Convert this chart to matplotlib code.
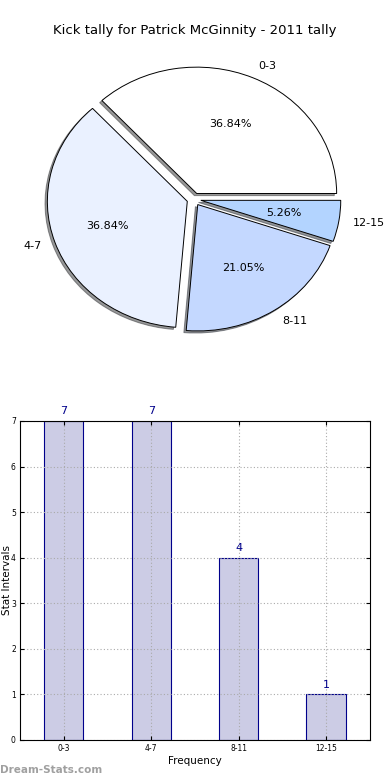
import matplotlib
matplotlib.use("Agg")
import matplotlib.pyplot as plt

intervals = ["0-3", "4-7", "8-11", "12-15"]
counts = [7, 7, 4, 1]
pie_colors = ["#FFFFFF", "#EAF1FF", "#C4D8FF", "#B3D4FF"]
title = "Kick tally for Patrick McGinnity - 2011 tally"

fig = plt.figure(figsize=(3.9, 7.8), dpi=100)

# pie on top (old-style, not forced circular)
ax_pie = fig.add_axes([0.0487, 0.542, 0.897, 0.405])
wedges, texts, autotexts = ax_pie.pie(
    counts,
    labels=intervals,
    colors=pie_colors,
    explode=[0.05] * len(counts),
    autopct="%1.2f%%",
    shadow={"ox": -0.012, "oy": -0.012, "shade": 0.8},
    startangle=0,
    wedgeprops={"edgecolor": "black", "linewidth": 0.7},
    textprops={"fontsize": 8},
)
ax_pie.set_aspect("auto")
ax_pie.set_xlim(-1.25, 1.25)
ax_pie.set_ylim(-1.25, 1.25)
fig.text(0.5, 0.961, title, ha="center", va="center", fontsize=9.5)

# bar chart below
ax_bar = fig.add_axes([0.0513, 0.0513, 0.897, 0.409])
x = list(range(len(intervals)))
ax_bar.bar(x, counts, width=0.45, color="#CCCCE5", edgecolor="#00008B", linewidth=0.8)
for xi, c in zip(x, counts):
    ax_bar.text(xi, c + 0.1, str(c), ha="center", va="bottom", fontsize=8, color="#00008B")
ax_bar.set_xlim(-0.5, 3.5)
ax_bar.set_ylim(0, 7)
ax_bar.set_xticks(x)
ax_bar.set_xticklabels(intervals)
ax_bar.set_yticks(range(8))
ax_bar.tick_params(labelsize=5.5, direction="in", top=True, right=True, length=3, pad=3)
ax_bar.grid(True, linestyle=(0, (1, 2)), color="#AAAAAA", linewidth=0.8)
ax_bar.set_xlabel("Frequency", fontsize=7.5, labelpad=2)
ax_bar.set_ylabel("Stat Intervals", fontsize=7.5)
ax_bar.yaxis.set_label_coords(-0.022, 0.5)

fig.text(0.0, 0.013, "Dream-Stats.com", fontsize=7.5, color="#A0A0A0",
         fontweight="bold", ha="left", va="center")

fig.savefig("out.png", dpi=100)
